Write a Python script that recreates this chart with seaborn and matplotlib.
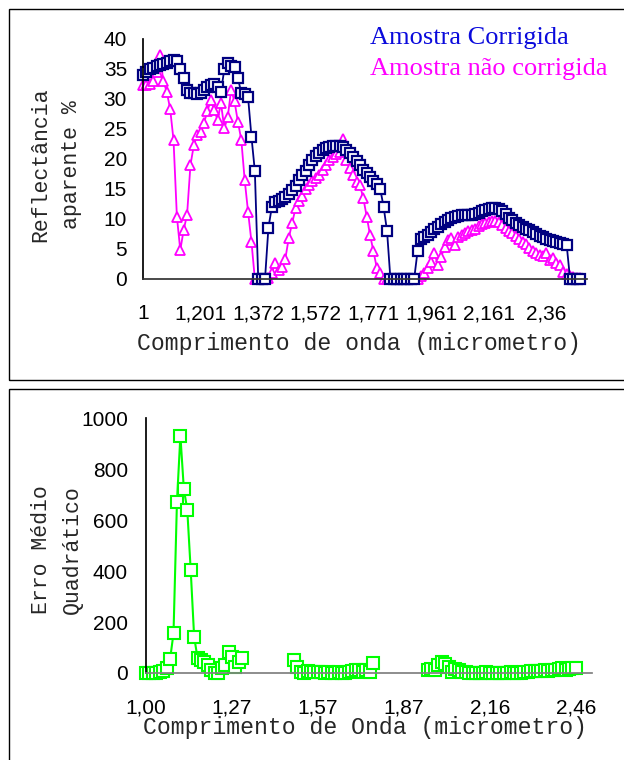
import numpy as np
import pandas as pd
import seaborn as sns
import matplotlib
matplotlib.use('Agg')
import matplotlib.pyplot as plt
from matplotlib.patches import Rectangle

# reflectancia aparente (%) por canal
amostra_corrigida = [
    34.0, 34.5, 35.0, 35.2, 35.5, 35.7, 35.8, 36.0, 36.3, 36.5,
    36.3, 35.0, 33.5, 31.5, 31.0, 31.0, 30.8, 31.0, 31.5, 32.0,
    32.3, 32.5, 32.0, 31.2, 35.0, 36.0, 35.5, 35.3, 33.5, 31.0,
    30.8, 30.3, 23.7, 18.0, 0, 0, 0, 8.5, 12.0, 12.8,
    13.0, 13.3, 13.7, 14.2, 14.8, 15.5, 16.5, 17.3, 18.0, 19.0,
    19.8, 20.5, 21.0, 21.5, 21.8, 22.0, 22.2, 22.2, 22.2, 22.0,
    21.5, 21.0, 20.3, 19.7, 19.0, 18.2, 17.6, 17.0, 16.3, 15.8,
    15.0, 12.0, 8.0, 0, 0, 0, 0, 0, 0, 0,
    0, 4.6, 6.6, 7.0, 7.3, 7.8, 8.3, 8.7, 9.2, 9.5,
    9.9, 10.2, 10.4, 10.5, 10.6, 10.6, 10.7, 10.7, 10.8, 11.0,
    11.3, 11.5, 11.7, 11.8, 11.8, 11.6, 11.3, 10.8, 10.2, 9.8,
    9.4, 9.0, 8.7, 8.4, 8.1, 7.8, 7.5, 7.2, 7.0, 6.7,
    6.5, 6.3, 6.2, 6.0, 5.8, 5.7, 0, 0, 0, 0,
]
amostra_nao_corrigida = [
    32.3, 32.3, 32.5, 33.0, 34.5, 37.3, 33.0, 31.2, 28.4, 23.2,
    10.4, 4.8, 8.2, 10.7, 19.0, 22.3, 24.0, 24.5, 26.0, 28.0,
    29.8, 28.2, 26.5, 29.3, 25.1, 27.0, 31.5, 29.6, 26.2, 23.2,
    16.5, 11.2, 6.2, 0, 0, 0, 0, 0.2, 1.0, 2.6,
    1.5, 2.0, 3.4, 6.8, 9.3, 11.8, 13.0, 13.9, 15.0, 15.6,
    16.3, 16.8, 17.4, 18.2, 19.0, 19.8, 20.4, 20.9, 21.2, 23.3,
    19.8, 18.5, 17.3, 16.2, 15.6, 13.5, 10.4, 7.3, 4.6, 1.8,
    1.0, 0, 0, 0, 0, 0, 0, 0, 0, 0,
    0, 0, 0.5, 1.0, 1.8, 2.9, 4.3, 2.3, 3.7, 5.4,
    6.5, 6.8, 5.7, 7.0, 7.3, 7.6, 8.0, 8.2, 8.4, 8.8,
    9.1, 9.3, 9.5, 9.6, 9.7, 9.5, 9.0, 8.5, 8.0, 7.7,
    7.2, 6.7, 6.2, 5.9, 5.2, 4.6, 4.4, 4.0, 3.8, 4.3,
    3.2, 3.5, 2.6, 2.3, 1.2, 0.8, 0.5, 0.3, 0.2, 0.1,
]
rotulos_topo = ['1', '1,201', '1,372', '1,572', '1,771', '1,961', '2,161', '2,36']

# erro medio quadratico; NaN = bandas sem dados
erro_medio = [
    0, 0, 0, 0, 2, 8, 18, 54, 156, 672,
    933, 724, 642, 404, 142, 58, 51, 44, 30, 10,
    0, 0, 20, 30, 84, 63, 25, 45, 60,
] + [np.nan] * 14 + [
    51, 25, 5, 0, 8, 5, 3, 4, 2, 0,
    3, 0, 1, 2, 0, 0, 3, 8, 12, 10,
    5, 10, 5, 38,
] + [np.nan] * 15 + [
    12, 15, 10, 31, 44, 35, 25, 5, 15, 10,
    3, 2, 0, 1, 0, 0, 1, 2, 0, 0,
    1, 0, 0, 1, 2, 0, 1, 0, 2,
    5, 6, 8, 6, 8, 10, 8, 10, 12, 15, 18, 12, 15, 20, 18,
]
rotulos_baixo = ['1,00', '1,27', '1,57', '1,87', '2,16', '2,46']

sns.set_theme(style='white')
plt.rcParams['font.family'] = 'Liberation Sans'

W, H = 624, 760
fig = plt.figure(figsize=(W / 100, H / 100), dpi=100)
fig.patch.set_facecolor('white')

# molduras dos dois graficos
fig.add_artist(Rectangle((8.5 / W, 1 - 379.5 / H), 1.0, 370 / H,
                         transform=fig.transFigure, fill=False, lw=1, ec='black'))
fig.add_artist(Rectangle((8.5 / W, -0.1), 1.0, 0.1 + 1 - 389.5 / H,
                         transform=fig.transFigure, fill=False, lw=1, ec='black'))

mono = 'Liberation Mono'

# ---------- grafico de reflectancia ----------
ax1 = fig.add_axes([143 / W, 1 - 279 / H, 444 / W, 240 / H])
df1 = pd.DataFrame({'canal': np.arange(len(amostra_corrigida)),
                    'corrigida': amostra_corrigida,
                    'nao_corrigida': amostra_nao_corrigida})

sns.lineplot(data=df1, x='canal', y='nao_corrigida', ax=ax1, color='#ff00ff',
             marker='^', markersize=7.5, markerfacecolor='white',
             markeredgecolor='#ff00ff', markeredgewidth=1.3, linewidth=1.3,
             clip_on=False, legend=False)
sns.lineplot(data=df1, x='canal', y='corrigida', ax=ax1, color='#000080',
             marker='s', markersize=7, markerfacecolor='white',
             markeredgecolor='#000080', markeredgewidth=1.6, linewidth=1.3,
             clip_on=False, legend=False)

ax1.set_xlim(0, 131)
ax1.set_ylim(0, 40)
ax1.set_xticks(range(0, 17 * len(rotulos_topo), 17))
ax1.set_xticklabels(rotulos_topo)
ax1.set_yticks(range(0, 41, 5))
ax1.tick_params(axis='both', direction='inout', length=9, width=1,
                colors='black', labelsize=15)
ax1.tick_params(axis='x', pad=13.5)
ax1.tick_params(axis='y', pad=7)
for s in ['top', 'right']:
    ax1.spines[s].set_visible(False)
ax1.spines['left'].set_color('black')
ax1.spines['bottom'].set_color('#333333')
ax1.set_xlabel('Comprimento de onda (micrometro)', family=mono, size=16.7, va='center')
ax1.xaxis.set_label_coords(0.4876, -0.267)
ax1.set_ylabel('Reflectância\naparente %', family=mono, size=15.5, va='center',
               linespacing=1.6)
ax1.yaxis.set_label_coords(-0.196, 0.475)

fig.text(370 / W, 1 - 38 / H, 'Amostra Corrigida', family='Liberation Serif',
         size=19, color='#0a0adc', ha='left', va='center')
fig.text(370 / W, 1 - 69 / H, 'Amostra não corrigida', family='Liberation Serif',
         size=19, color='#ff00ff', ha='left', va='center')

# ---------- grafico do erro medio quadratico ----------
ax2 = fig.add_axes([146 / W, 1 - 673 / H, 446 / W, 254.5 / H])
erro = pd.Series(erro_medio)
df2 = pd.DataFrame({'canal': np.arange(len(erro)), 'erro': erro,
                    'trecho': erro.isna().cumsum()}).dropna()

sns.lineplot(data=df2, x='canal', y='erro', units='trecho', estimator=None,
             ax=ax2, color='#00ff00', marker='s', markersize=8,
             markerfacecolor='white', markeredgecolor='#00ff00',
             markeredgewidth=1.5, linewidth=1.5, clip_on=False, legend=False)

ax2.set_xlim(0, 129.7)
ax2.set_ylim(0, 1000)
ax2.set_xticks(range(0, 25 * len(rotulos_baixo), 25))
ax2.set_xticklabels(rotulos_baixo)
ax2.set_yticks(range(0, 1001, 200))
ax2.tick_params(axis='both', direction='inout', length=9, width=1,
                colors='black', labelsize=15)
ax2.tick_params(axis='x', pad=13.5, color='#404040')
ax2.tick_params(axis='y', pad=8.5)
for s in ['top', 'right']:
    ax2.spines[s].set_visible(False)
ax2.spines['left'].set_color('black')
ax2.spines['bottom'].set_color('#808080')
ax2.set_xlabel('Comprimento de Onda (micrometro)', family=mono, size=16.7, va='center')
ax2.xaxis.set_label_coords(0.492, -0.216)
ax2.set_ylabel('Erro Médio\nQuadrático', family=mono, size=15.5, va='center',
               linespacing=1.6)
ax2.yaxis.set_label_coords(-0.2, 0.483)

fig.savefig('out.png', dpi=100, facecolor='white')
